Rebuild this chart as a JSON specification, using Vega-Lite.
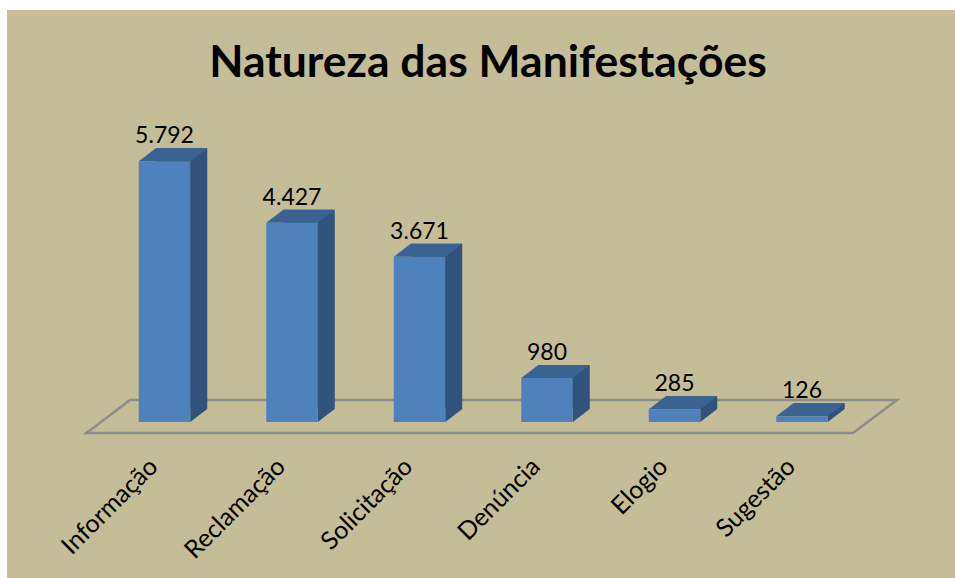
{
"$schema":"https://vega.github.io/schema/vega-lite/v6.json",
"autosize":{"type":"none"},
"padding":{"left":7,"top":10,"right":0,"bottom":0},
"width":948,"height":568,
"background":"white",
"view":{"fill":"#C4BD97","stroke":null},
"title":{"text":"Natureza das Manifestações","anchor":"middle","frame":"group","font":"Lato","fontWeight":"bold","fontSize":44.5,"color":"#000000","offset":0,"dy":76,"dx":7},
"data":{"values":[
{"natureza":"Informação","valor":5792,"rotulo":"5.792"},
{"natureza":"Reclamação","valor":4427,"rotulo":"4.427"},
{"natureza":"Solicitação","valor":3671,"rotulo":"3.671"},
{"natureza":"Denúncia","valor":980,"rotulo":"980"},
{"natureza":"Elogio","valor":285,"rotulo":"285"},
{"natureza":"Sugestão","valor":126,"rotulo":"126"}
]},
"encoding":{
"x":{"field":"natureza","type":"nominal","sort":null,"title":null,
"scale":{"type":"band","range":[93.75,858.75],"paddingInner":0.596,"paddingOuter":0.298},
"axis":{"orient":"bottom","offset":-116,"domain":false,"ticks":false,"grid":false,"labelAngle":-45,"labelAlign":"right","labelBaseline":"middle","labelFont":"Lato","labelFontSize":25,"labelColor":"#000000","labelPadding":0,"labelOffset":-11}},
"y":{"field":"valor","type":"quantitative","title":null,
"scale":{"domain":[0,6000],"range":[412,142],"nice":false},
"axis":null}
},
"layer":[
{"transform":[{"filter":"datum.natureza === 'Informação'"}],
 "mark":{"type":"point","filled":false,"opacity":1,"size":4,"stroke":"#8C8C8C","strokeWidth":2.5,"fill":null,"shape":"M-78 11L688.5 11L732.5 -22L-34.5 -22Z"},
 "encoding":{"y":{"datum":0}}},
{"mark":{"type":"bar","color":"#31527B","xOffset":17,"yOffset":-13}},
{"mark":{"type":"point","filled":true,"opacity":1,"size":4,"color":"#31527B","shape":"M25.75 0L42.75 -13L25.75 -13Z"},
 "encoding":{"y":{"datum":0}}},
{"mark":{"type":"point","filled":true,"opacity":1,"size":4,"color":"#3B6392","shape":"M-25.75 0L25.75 0L42.75 -13L-8.75 -13Z"}},
{"mark":{"type":"bar","color":"#4F81BD"}},
{"mark":{"type":"text","font":"Lato","fontSize":23,"color":"#000000","align":"center","baseline":"middle","dy":-25},
 "encoding":{"text":{"field":"rotulo","type":"nominal"}}}
]
}
